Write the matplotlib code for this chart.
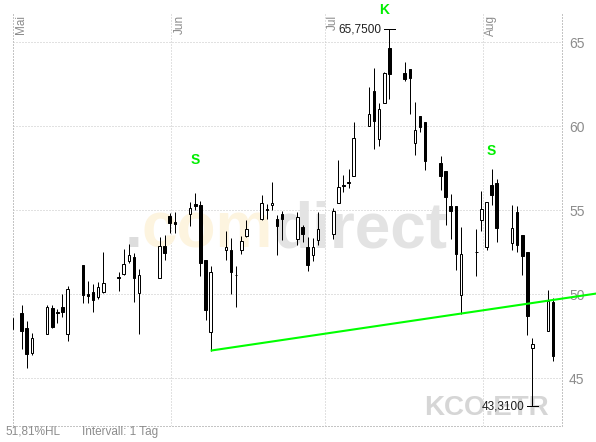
import numpy as np
import matplotlib
matplotlib.use('Agg')
import matplotlib.pyplot as plt
import matplotlib.dates as mdates
from matplotlib.patches import Rectangle
from matplotlib.transforms import blended_transform_factory

plt.rcParams['font.family'] = ['Liberation Sans', 'DejaVu Sans']

# ---------------- data ----------------
dates = ['2007-04-30', '2007-05-02', '2007-05-03', '2007-05-04',
         '2007-05-07', '2007-05-08', '2007-05-09', '2007-05-10', '2007-05-11',
         '2007-05-14', '2007-05-15', '2007-05-16', '2007-05-17', '2007-05-18',
         '2007-05-21', '2007-05-22', '2007-05-23', '2007-05-24', '2007-05-25',
         '2007-05-29', '2007-05-30', '2007-05-31', '2007-06-01',
         '2007-06-04', '2007-06-05', '2007-06-06', '2007-06-07', '2007-06-08',
         '2007-06-11', '2007-06-12', '2007-06-13', '2007-06-14', '2007-06-15',
         '2007-06-18', '2007-06-19', '2007-06-20', '2007-06-21', '2007-06-22',
         '2007-06-25', '2007-06-26', '2007-06-27', '2007-06-28', '2007-06-29',
         '2007-07-02', '2007-07-03', '2007-07-04', '2007-07-05', '2007-07-06',
         '2007-07-09', '2007-07-10', '2007-07-11', '2007-07-12', '2007-07-13',
         '2007-07-16', '2007-07-17', '2007-07-18', '2007-07-19', '2007-07-20',
         '2007-07-23', '2007-07-24', '2007-07-25', '2007-07-26', '2007-07-27',
         '2007-07-30', '2007-07-31', '2007-08-01', '2007-08-02', '2007-08-03',
         '2007-08-06', '2007-08-07', '2007-08-08', '2007-08-09', '2007-08-10',
         '2007-08-13', '2007-08-14']

opens = [47.91, 48.86, 47.96, 46.47,
         47.60, 49.18, 48.90, 49.23, 47.60,
         51.73, 49.98, 50.14, 49.80, 50.14,
         50.99, 51.17, 51.96, 52.18, 50.04,
         50.97, 52.86, 54.66, 54.29,
         54.74, 55.38, 55.32, 52.04, 47.72,
         52.62, 52.64, 51.15, 52.64, 53.43,
         54.46, 55.04, 55.28, 54.46, 54.78,
         53.27, 54.01, 52.80, 52.30, 53.23,
         53.59, 55.42, 56.49, 56.67, 57.04,
         60.02, 62.06, 59.23, 61.35, 64.62,
         63.16, 63.38, 58.99, 60.62, 60.22,
         57.80, 57.34, 55.26, 55.22, 49.96,
         52.52, 54.38, 52.78, 56.51, 56.61,
         53.04, 54.88, 53.53, 52.48, 46.79,
         47.78, 49.52]

highs = [48.60, 49.36, 48.39, 47.68,
         49.34, 49.35, 49.10, 50.00, 50.48,
         51.73, 50.77, 50.60, 50.73, 52.52,
         51.33, 52.66, 52.98, 52.46, 51.47,
         53.41, 53.51, 54.84, 54.90,
         55.49, 56.01, 55.52, 52.04, 51.69,
         53.73, 53.33, 51.65, 53.47, 54.42,
         55.91, 55.38, 56.67, 54.72, 54.92,
         54.86, 54.09, 53.39, 53.33, 54.86,
         55.12, 58.00, 57.10, 57.44, 60.22,
         62.30, 63.45, 61.37, 63.20, 65.75,
         63.82, 63.39, 61.43, 60.62, 60.22,
         58.23, 57.34, 55.95, 55.22, 53.99,
         53.89, 56.15, 55.48, 57.46, 56.87,
         55.28, 55.22, 53.53, 52.48, 47.38,
         50.26, 49.76]

lows = [47.23, 46.73, 45.61, 46.37,
        47.60, 48.00, 48.30, 48.61, 47.22,
        49.48, 49.48, 48.95, 49.70, 50.08,
        50.20, 51.13, 51.86, 49.54, 47.60,
        50.97, 52.02, 53.61, 53.61,
        54.05, 55.02, 51.05, 48.43, 46.63,
        52.04, 50.00, 49.23, 52.40, 53.39,
        54.38, 54.46, 54.98, 52.30, 53.19,
        52.90, 53.08, 51.35, 51.94, 52.90,
        53.27, 55.42, 56.07, 56.31, 57.04,
        60.02, 58.63, 58.79, 61.35, 61.59,
        62.68, 60.70, 58.25, 59.64, 57.36,
        56.17, 54.09, 53.27, 51.41, 48.83,
        51.05, 53.73, 52.60, 55.28, 53.10,
        52.64, 52.50, 51.11, 47.54, 43.31,
        47.78, 45.99]

closes = [48.57, 47.77, 46.41, 47.36,
          49.24, 48.01, 48.86, 48.95, 50.30,
          49.94, 49.90, 49.64, 50.40, 50.64,
          50.95, 51.77, 52.32, 50.93, 51.11,
          52.86, 52.42, 54.24, 54.15,
          55.10, 55.26, 51.85, 49.07, 51.29,
          52.80, 51.31, 51.11, 53.13, 53.87,
          55.42, 55.00, 55.42, 54.03, 54.46,
          54.58, 53.59, 51.71, 52.80, 53.87,
          54.96, 56.37, 56.45, 56.63, 59.29,
          60.71, 60.32, 61.01, 63.17, 63.08,
          62.78, 62.85, 59.78, 59.94, 57.90,
          57.00, 55.75, 54.92, 52.38, 52.40,
          52.48, 55.06, 55.48, 55.87, 53.93,
          53.93, 52.94, 52.24, 48.67, 47.04,
          49.56, 46.29]

month_starts = ['2007-05-01', '2007-06-01', '2007-07-01', '2007-08-01']
month_labels = ['Mai', 'Jun', 'Jul', 'Aug']
y_ticks = [45, 50, 55, 60, 65]

trend_dates = ['2007-06-08', '2007-08-23']
trend_values = [46.63, 50.05]

label_texts = ['S', 'K', 'S']
label_dates = ['2007-06-05', '2007-07-12', '2007-08-02']
label_values = [57.95, 66.93, 58.51]

# ---------------- figure ----------------
W, H = 596, 442
fig = plt.figure(figsize=(W / 100, H / 100), dpi=100)
ax_left, ax_right, ax_top, ax_bottom = 13, 562, 12, 426
ax = fig.add_axes([ax_left / W, 1 - ax_bottom / H,
                   (ax_right - ax_left) / W, (ax_bottom - ax_top) / H])

OFF = 0.68  # candle sits inside its calendar day
xd = mdates.date2num(np.array(dates, dtype='datetime64[D]')) + OFF
o = np.array(opens); h = np.array(highs); l = np.array(lows); c = np.array(closes)

px = 1.0 * 72 / 100  # one pixel in points
bw = 0.5
for xi, oi, hi, li, ci in zip(xd, o, h, l, c):
    ax.vlines(xi, li, hi, color='black', linewidth=px, zorder=3)
    up = ci >= oi
    bottom = min(oi, ci)
    height = max(abs(ci - oi), 0.04)
    ax.add_patch(Rectangle((xi - bw / 2, bottom), bw, height,
                           facecolor='white' if up else 'black',
                           edgecolor='black', linewidth=px, zorder=4))

# trend line
tx = mdates.date2num(np.array(trend_dates, dtype='datetime64[D]')) + OFF
ax.plot(tx, trend_values, color='#00ff00', linewidth=1.5, zorder=5,
        clip_on=False, solid_capstyle='butt')

# pattern labels
lx = mdates.date2num(np.array(label_dates, dtype='datetime64[D]')) + OFF
for t, xi, yi in zip(label_texts, lx, label_values):
    ax.text(xi, yi, t, color='#00ee00', fontsize=10, fontweight='bold',
            ha='center', va='center', zorder=6, clip_on=False)

# extremes
imax = int(np.argmax(h)); imin = int(np.argmin(l))
for i, val in ((imax, h[imax]), (imin, l[imin])):
    ax.plot([xd[i] - 1, xd[i] + 1], [val, val], color='black', linewidth=px,
            zorder=6, clip_on=False)
    ax.annotate(f"{val:.4f}".replace('.', ','), xy=(xd[i] - 1, val),
                xytext=(-3, 0), textcoords='offset pixels', ha='right',
                va='center', fontsize=8.5, color='#202020', zorder=6,
                annotation_clip=False)

# limits
x0 = mdates.date2num(np.datetime64('2007-05-01'))
ax.set_xlim(x0, x0 + (ax_right - ax_left) / 5.109)
px_per_unit = 16.8
ax.set_ylim(65 - (ax_bottom - 42) / px_per_unit, 65 + (42 - ax_top) / px_per_unit)

# grid / ticks
mx = mdates.date2num(np.array(month_starts, dtype='datetime64[D]'))
ax.set_xticks(mx)
ax.set_xticklabels([])
ax.set_yticks(y_ticks)
ax.yaxis.tick_right()
ax.tick_params(axis='both', length=0)
ax.tick_params(axis='y', pad=5, labelcolor='#8c8c8c', labelsize=10)
grid_kw = dict(color='#c4c4c4', linewidth=px, linestyle=(0, (1, 2)))
ax.grid(True, **grid_kw)
ax.set_axisbelow(True)
for s in ('left', 'right', 'bottom'):
    ax.spines[s].set_color('#c4c4c4')
    ax.spines[s].set_linewidth(px)
    ax.spines[s].set_linestyle((0, (1, 2)))
ax.spines['top'].set_visible(False)
ax.patch.set_alpha(0)

# month labels
btrans = blended_transform_factory(ax.transData, ax.transAxes)
for m, lab in zip(mx, month_labels):
    ax.annotate(lab, xy=(m, 1.0), xycoords=btrans, xytext=(2, -3),
                textcoords='offset pixels', rotation=90, ha='left', va='top',
                fontsize=8.5, color='#8c8c8c', annotation_clip=False)

# watermarks
t_com = ax.text((142 - ax_left) / (ax_right - ax_left),
                (ax_bottom - 247) / (ax_bottom - ax_top), 'com',
                transform=ax.transAxes, fontsize=46, fontweight='bold',
                color='#fdf4df', ha='left', va='baseline', zorder=1)
ax.annotate('direct', xy=(1, 0), xycoords=t_com, ha='left', va='bottom',
            fontsize=46, fontweight='bold', color='#e3e3e3', zorder=1)
ax.annotate('.', xy=(0, 0), xycoords=t_com, ha='right', va='bottom',
            fontsize=46, fontweight='bold', color='#dddddd', zorder=1)
ax.text((549 - ax_left) / (ax_right - ax_left),
        (ax_bottom - 415) / (ax_bottom - ax_top), 'KCO.ETR',
        transform=ax.transAxes, fontsize=20, fontweight='bold',
        color='#d6d6d6', ha='right', va='baseline', zorder=1)

# footer texts
fig.text(5 / W, (H - 435) / H, '51,81%HL', fontsize=8.5, color='#8c8c8c',
         ha='left', va='baseline')
fig.text(82 / W, (H - 435) / H, 'Intervall: 1 Tag', fontsize=8.5,
         color='#8c8c8c', ha='left', va='baseline')

fig.savefig('out.png', dpi=100)
